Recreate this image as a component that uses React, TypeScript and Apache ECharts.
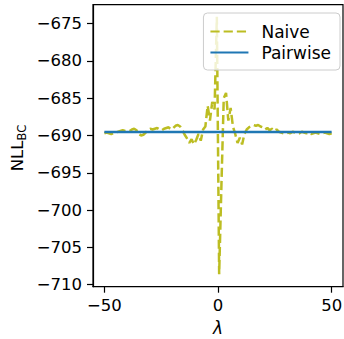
import React, { useEffect, useRef } from "react";
import * as echarts from "echarts";

const lambdaValues = [
  -50.0, -48.99, -47.98, -46.97, -45.96, -44.95, -43.94, -42.93, -41.92, -40.91,
  -39.9, -38.89, -37.88, -36.87, -35.86, -34.85, -33.84, -32.83, -31.82, -30.81,
  -29.8, -28.79, -27.78, -26.77, -25.76, -24.75, -23.74, -22.73, -21.72, -20.71,
  -19.7, -18.69, -17.68, -16.67, -15.66, -14.65, -13.64, -12.63, -11.62, -10.61,
  -9.6, -8.59, -7.58, -6.57, -5.56, -4.55, -3.54, -2.53, -1.52, -0.51,
  0.51, 1.52, 2.53, 3.54, 4.55, 5.56, 6.57, 7.58, 8.59, 9.6,
  10.61, 11.62, 12.63, 13.64, 14.65, 15.66, 16.67, 17.68, 18.69, 19.7,
  20.71, 21.72, 22.73, 23.74, 24.75, 25.76, 26.77, 27.78, 28.79, 29.8,
  30.81, 31.82, 32.83, 33.84, 34.85, 35.86, 36.87, 37.88, 38.89, 39.9,
  40.91, 41.92, 42.93, 43.94, 44.95, 45.96, 46.97, 47.98, 48.99, 50.0,
];

const naiveValues = [
  -689.7, -689.6, -689.7, -689.8, -689.7, -689.6, -689.5, -689.4, -689.3, -689.4,
  -689.3, -689.4, -689.2, -689.1, -689.3, -689.8, -690.0, -689.9, -689.6, -689.3,
  -689.1, -689.2, -689.1, -689.0, -689.2, -689.3, -689.1, -689.0, -688.9, -689.2,
  -689.0, -688.7, -688.6, -688.8, -689.3, -689.9, -690.4, -691.0, -690.5, -691.2,
  -690.6, -689.8, -690.7, -689.2, -688.8, -686.0, -688.0, -685.5, -686.5, -674.1,
  -708.6, -696.5, -685.0, -684.3, -688.0, -686.3, -688.8, -689.8, -691.0, -690.3,
  -691.2, -689.8, -689.2, -688.9, -688.7, -688.6, -688.7, -688.6, -688.8, -688.9,
  -689.2, -689.0, -689.3, -689.1, -689.4, -689.2, -689.5, -689.6, -689.7, -689.8,
  -689.6, -689.7, -689.5, -689.6, -689.8, -689.7, -689.5, -689.6, -689.7, -689.6,
  -689.8, -689.7, -689.6, -689.7, -689.8, -689.7, -689.6, -689.7, -689.8, -689.7,
];

const pairwiseLambda = [-50, 50];
const pairwiseValues = [-689.55, -689.55];

const xTicks = [-50, 0, 50];
const yTicks = [-710, -705, -700, -695, -690, -685, -680, -675];

const FONT = "DejaVu Sans";
const minus = (v: number) => String(v).replace("-", "\u2212");

export default function App() {
  const ref = useRef<HTMLDivElement>(null);
  useEffect(() => {
    if (!ref.current) return;
    const chart = echarts.init(ref.current, null, { renderer: "svg" });
    const naiveData = lambdaValues.map((x, i) => [x, naiveValues[i]]);
    const pairData = pairwiseLambda.map((x, i) => [x, pairwiseValues[i]]);
    chart.setOption({
      animation: false,
      backgroundColor: "#ffffff",
      grid: {
        left: 93,
        right: 1,
        top: 4.7,
        bottom: 52.3,
        outerBoundsMode: "none",
        containLabel: false,
        show: true,
        borderColor: "#000000",
        borderWidth: 1.2,
        backgroundColor: "#ffffff",
      },
      xAxis: {
        type: "value",
        min: -55,
        max: 55,
        name: "λ",
        nameLocation: "middle",
        nameGap: 33,
        nameTextStyle: { fontFamily: FONT, fontSize: 17, fontStyle: "italic", color: "#000" },
        splitLine: { show: false },
        axisLine: { show: true, onZero: false, lineStyle: { color: "#000", width: 1.2 } },
        axisTick: { show: true, customValues: xTicks, length: 6, lineStyle: { color: "#000", width: 1.2 } },
        axisLabel: {
          customValues: xTicks,
          margin: 10,
          fontFamily: FONT,
          fontSize: 16.5,
          color: "#000",
          formatter: (v: number) => minus(v),
        },
      },
      yAxis: {
        type: "value",
        min: -710.27,
        max: -672.47,
        splitLine: { show: false },
        axisLine: { show: true, onZero: false, lineStyle: { color: "#000", width: 1.2 } },
        axisTick: { show: true, customValues: yTicks, length: 6, lineStyle: { color: "#000", width: 1.2 } },
        axisLabel: {
          customValues: yTicks,
          margin: 11,
          fontFamily: FONT,
          fontSize: 16.5,
          color: "#000",
          formatter: (v: number) => minus(v),
        },
      },
      legend: {
        orient: "vertical",
        right: 4,
        top: 13,
        itemWidth: 38,
        itemHeight: 14,
        itemGap: 4,
        padding: [10, 9, 9, 6],
        backgroundColor: "rgba(255,255,255,0.8)",
        borderColor: "#cccccc",
        borderWidth: 1,
        borderRadius: 4,
        itemStyle: { color: "rgba(0,0,0,0)", borderWidth: 0, opacity: 0 },
        textStyle: { fontFamily: FONT, fontSize: 17, color: "#000", padding: [0, 0, 0, 8] },
        data: ["Naive", "Pairwise"],
      },
      graphic: [
        {
          type: "text",
          x: 17,
          y: 148,
          rotation: Math.PI / 2,
          style: {
            text: "{a|NLL}{b|BC}",
            textAlign: "center",
            textVerticalAlign: "middle",
            fill: "#000",
            rich: {
              a: { fontFamily: FONT, fontSize: 16.5, lineHeight: 22, verticalAlign: "middle", fill: "#000" },
              b: { fontFamily: FONT, fontSize: 11.5, lineHeight: 22, verticalAlign: "bottom", fill: "#000", padding: [6, 0, 0, 0] },
            },
          },
        },
      ],
      series: [
        {
          name: "Naive",
          type: "line",
          data: naiveData,
          symbol: "none",
          showSymbol: false,
          color: "#bcbd22",
          lineStyle: { color: "#bcbd22", width: 2.5, type: [9.2, 4] },
          z: 2,
        },
        {
          name: "Pairwise",
          type: "line",
          data: pairData,
          symbol: "none",
          showSymbol: false,
          color: "#1f77b4",
          lineStyle: { color: "#1f77b4", width: 2.5 },
          z: 3,
        },
      ],
    });
    return () => chart.dispose();
  }, []);
  return (
    <div
      ref={ref}
      style={{ position: "fixed", left: 0, top: 0, width: 344, height: 339, background: "#fff" }}
    />
  );
}
